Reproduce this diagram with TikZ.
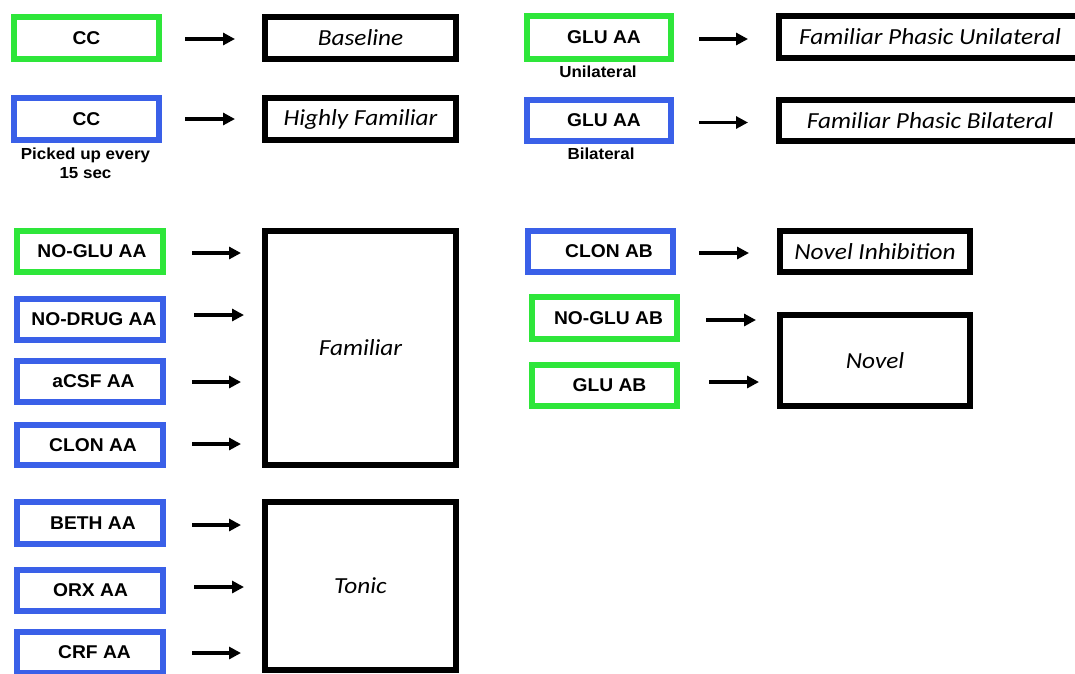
\documentclass[tikz,border=0pt]{standalone}
\usepackage{fontspec}
\setmainfont{Liberation Sans}
\newfontfamily\lblfont{Liberation Sans}[FakeStretch=1.04]
\newfontfamily\notefont{Liberation Sans}[FakeStretch=1.06]
\newfontfamily\outfont{Carlito}[FakeStretch=1.1]
\usetikzlibrary{arrows.meta}
\definecolor{grpgreen}{RGB}{46,230,58}
\definecolor{grpblue}{RGB}{58,96,232}

\tikzset{
  box/.style={draw, line width=6pt, inner sep=0pt, outer sep=0pt, fill=white},
  sz/.style 2 args={minimum width=#1pt, minimum height=#2pt},
  cond/.style={box, font=\lblfont\bfseries\fontsize{18.5}{20}\selectfont},
  greencond/.style={cond, draw=grpgreen},
  bluecond/.style={cond, draw=grpblue},
  result/.style={box, draw=black, font=\outfont\itshape\fontsize{23}{26}\selectfont},
  note/.style={font=\notefont\bfseries\fontsize{16}{19}\selectfont, align=center, inner sep=0pt, anchor=north},
  arr/.style={line width=3.5pt, -{Triangle[length=12pt,width=12pt]}},
}

\begin{document}
\begin{tikzpicture}[x=1pt,y=-1pt]
\useasboundingbox (0,0) rectangle (1075,673);
\clip (0,0) rectangle (1075,673);

% top-left: cage-control conditions
\node[greencond, sz={145}{42}] (cc1) at (86.5,38) {CC};
\node[result, sz={191}{42}] (base) at (360.5,38) {Baseline};
\node[bluecond, sz={145}{42}] (cc2) at (86.5,119) {CC};
\node[result, sz={191}{42}] (hfam) at (360.5,119) {Highly Familiar};
\node[note] (ccnote) at (85.5,148) {Picked up every\\15 sec};

% top-right: glutamate AA
\node[greencond, sz={144}{43}] (glu1) at (599,37.5) {\hspace*{10pt}GLU AA};
\node[note] (unote) at (598,66) {Unilateral};
\node[result, sz={302}{42}] (fpu) at (930,37) {Familiar Phasic Unilateral};
\node[bluecond, sz={144}{41}] (glu2) at (599,120.5) {\hspace*{10pt}GLU AA};
\node[note] (bnote) at (601,148) {Bilateral};
\node[result, sz={302}{41}] (fpb) at (930,120.5) {Familiar Phasic Bilateral};

% familiar group
\node[greencond, sz={146}{41}] (noglu) at (90,251.5) {\hspace*{4pt}NO-GLU AA};
\node[bluecond, sz={146}{41}] (nodrug) at (90,319.5) {\hspace*{8pt}NO-DRUG AA};
\node[bluecond, sz={146}{41}] (acsf) at (90,381.5) {\hspace*{7pt}aCSF AA};
\node[bluecond, sz={146}{40}] (clonaa) at (90,445) {\hspace*{6pt}CLON AA};
\node[result, sz={191}{234}] (fam) at (360.5,348) {Familiar};

% tonic group
\node[bluecond, sz={146}{42}] (beth) at (90,523) {\hspace*{6pt}BETH AA};
\node[bluecond, sz={146}{41}] (orx) at (90,590.5) {\hspace*{1pt}ORX AA};
\node[bluecond, sz={146}{41}] (crf) at (90,652.5) {\hspace*{9pt}CRF AA};
\node[result, sz={191}{168}] (tonic) at (360.5,586) {Tonic};

% novel group
\node[bluecond, sz={145}{41}] (clonab) at (600.5,251.5) {\hspace*{17pt}CLON AB};
\node[result, sz={190}{41}] (noinh) at (875,251.5) {Novel Inhibition};
\node[greencond, sz={145}{42}] (noglab) at (604.5,318) {\hspace*{8pt}NO-GLU AB};
\node[greencond, sz={145}{41}] (gluab) at (604.5,385.5) {\hspace*{10pt}GLU AB};
\node[result, sz={190}{91}] (novel) at (875,360.5) {Novel};

% arrows
\draw[arr, shorten <=26pt, shorten >=30pt] ([yshift=-1pt]cc1.east) -- ([yshift=-1pt]cc1.east -| base.west);
\draw[arr, shorten <=26pt, shorten >=30pt] (cc2.east) -- (cc2.east -| hfam.west);
\draw[arr, shorten <=28pt, shorten >=31pt] ([yshift=-1.5pt]glu1.east) -- ([yshift=-1.5pt]glu1.east -| fpu.west);
\draw[arr, shorten <=28pt, shorten >=31pt] ([yshift=-2pt]glu2.east) -- ([yshift=-2pt]glu2.east -| fpb.west);

\draw[arr, shorten <=29pt, shorten >=24pt] ([yshift=-1.5pt]noglu.east) -- ([yshift=-1.5pt]noglu.east -| fam.west);
\draw[arr, shorten <=31pt, shorten >=21pt] ([yshift=4.5pt]nodrug.east) -- ([yshift=4.5pt]nodrug.east -| fam.west);
\draw[arr, shorten <=29pt, shorten >=24pt] ([yshift=-0.5pt]acsf.east) -- ([yshift=-0.5pt]acsf.east -| fam.west);
\draw[arr, shorten <=29pt, shorten >=24pt] ([yshift=1pt]clonaa.east) -- ([yshift=1pt]clonaa.east -| fam.west);

\draw[arr, shorten <=29pt, shorten >=24pt] ([yshift=-2pt]beth.east) -- ([yshift=-2pt]beth.east -| tonic.west);
\draw[arr, shorten <=31pt, shorten >=21pt] ([yshift=3.5pt]orx.east) -- ([yshift=3.5pt]orx.east -| tonic.west);
\draw[arr, shorten <=29pt, shorten >=24pt] ([yshift=-0.5pt]crf.east) -- ([yshift=-0.5pt]crf.east -| tonic.west);

\draw[arr, shorten <=26pt, shorten >=31pt] ([yshift=-1.5pt]clonab.east) -- ([yshift=-1.5pt]clonab.east -| noinh.west);
\draw[arr, shorten <=29pt, shorten >=24pt] ([yshift=-2pt]noglab.east) -- ([yshift=-2pt]noglab.east -| novel.west);
\draw[arr, shorten <=32pt, shorten >=21pt] ([yshift=3.5pt]gluab.east) -- ([yshift=3.5pt]gluab.east -| novel.west);
\end{tikzpicture}
\end{document}
